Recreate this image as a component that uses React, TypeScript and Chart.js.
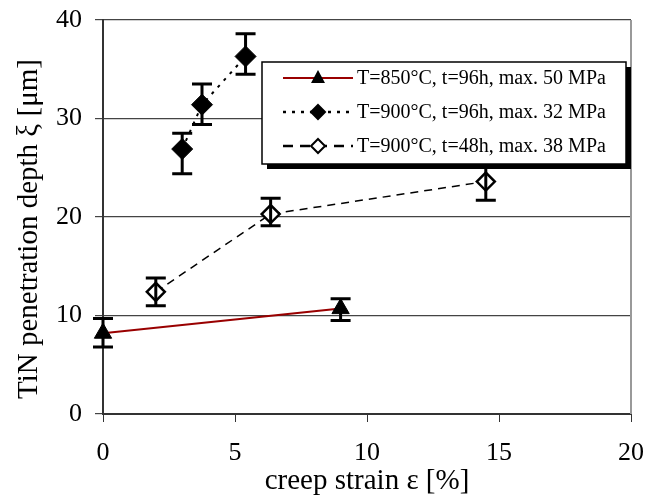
import React, { useEffect, useRef } from 'react';
import { Chart, registerables } from 'chart.js';

Chart.register(...registerables);

const xTickStep = 5;
const xMin = 0;
const xMax = 20;
const yTickStep = 10;
const yMin = 0;
const yMax = 40;

const xTitle = 'creep strain ε [%]';
const yTitle = 'TiN penetration depth ξ [μm]';

const s850Label = 'T=850°C, t=96h, max. 50 MPa';
const s850X = [0, 9];
const s850Y = [8.2, 10.7];
const s850Lo = [6.8, 9.5];
const s850Hi = [9.7, 11.7];

const s900aLabel = 'T=900°C, t=96h, max. 32 MPa';
const s900aX = [3.0, 3.75, 5.4];
const s900aY = [26.9, 31.4, 36.3];
const s900aLo = [24.4, 29.4, 34.5];
const s900aHi = [28.5, 33.5, 38.6];

const s900bLabel = 'T=900°C, t=48h, max. 38 MPa';
const s900bX = [2.0, 6.35, 14.5];
const s900bY = [12.4, 20.3, 23.6];
const s900bLo = [11.0, 19.1, 21.7];
const s900bHi = [13.8, 21.9, 25.2];

const FONT = "'Liberation Serif', 'Times New Roman', serif";

const toPts = (xs: number[], ys: number[]) => xs.map((x, i) => ({ x, y: ys[i] }));

const errorSets = [
  { xs: s850X, lo: s850Lo, hi: s850Hi },
  { xs: s900aX, lo: s900aLo, hi: s900aHi },
  { xs: s900bX, lo: s900bLo, hi: s900bHi },
];

const errorBarPlugin = {
  id: 'errorBars',
  afterDatasetsDraw(chart: any) {
    const { ctx, scales } = chart;
    ctx.save();
    ctx.strokeStyle = '#000';
    ctx.lineWidth = 3;
    errorSets.forEach((s) => {
      s.xs.forEach((xv, i) => {
        const px = scales.x.getPixelForValue(xv);
        const pLo = scales.y.getPixelForValue(s.lo[i]);
        const pHi = scales.y.getPixelForValue(s.hi[i]);
        ctx.beginPath();
        ctx.moveTo(px, pLo);
        ctx.lineTo(px, pHi);
        ctx.moveTo(px - 10, pLo);
        ctx.lineTo(px + 10, pLo);
        ctx.moveTo(px - 10, pHi);
        ctx.lineTo(px + 10, pHi);
        ctx.stroke();
      });
    });
    ctx.restore();
  },
};

const borderPlugin = {
  id: 'rightBorder',
  beforeDatasetsDraw(chart: any) {
    const { ctx, chartArea } = chart;
    ctx.save();
    ctx.strokeStyle = '#999';
    ctx.lineWidth = 2;
    ctx.beginPath();
    ctx.moveTo(chartArea.right, chartArea.top);
    ctx.lineTo(chartArea.right, chartArea.bottom);
    ctx.stroke();
    ctx.restore();
  },
};

const yTitlePlugin = {
  id: 'yTitle',
  afterDraw(chart: any) {
    const { ctx, chartArea } = chart;
    ctx.save();
    ctx.translate(29, (chartArea.top + chartArea.bottom) / 2 + 12);
    ctx.rotate(-Math.PI / 2);
    ctx.font = `29px ${FONT}`;
    ctx.fillStyle = '#000';
    ctx.textAlign = 'center';
    ctx.textBaseline = 'middle';
    ctx.fillText(yTitle, 0, 0);
    ctx.restore();
  },
};

const legendItems = [
  { label: s850Label, color: '#990000', dash: [] as number[], width: 2, marker: 'tri' },
  { label: s900aLabel, color: '#000', dash: [3, 6], width: 2.5, marker: 'dia' },
  { label: s900bLabel, color: '#000', dash: [10, 7], width: 2.5, marker: 'open' },
];

const legendPlugin = {
  id: 'boxLegend',
  afterDraw(chart: any) {
    const { ctx, chartArea } = chart;
    const left = chartArea.left + 159;
    const top = chartArea.top + 42;
    const w = 364;
    const h = 102;
    ctx.save();
    ctx.fillStyle = '#000';
    ctx.fillRect(left + 5, top + 5, w, h);
    ctx.fillStyle = '#fff';
    ctx.fillRect(left, top, w, h);
    ctx.strokeStyle = '#000';
    ctx.lineWidth = 1.5;
    ctx.strokeRect(left, top, w, h);
    ctx.font = `20px ${FONT}`;
    ctx.textBaseline = 'middle';
    ctx.textAlign = 'left';
    legendItems.forEach((it, i) => {
      const cy = top + 16 + i * 34;
      const x0 = left + 21;
      const x1 = left + 91;
      const cx = (x0 + x1) / 2;
      ctx.strokeStyle = it.color;
      ctx.lineWidth = it.width;
      ctx.setLineDash(it.dash);
      ctx.beginPath();
      ctx.moveTo(x0, cy);
      ctx.lineTo(x1, cy);
      ctx.stroke();
      ctx.setLineDash([]);
      ctx.beginPath();
      if (it.marker === 'tri') {
        ctx.moveTo(cx, cy - 8);
        ctx.lineTo(cx + 7, cy + 5);
        ctx.lineTo(cx - 7, cy + 5);
        ctx.closePath();
        ctx.fillStyle = '#000';
        ctx.fill();
      } else {
        ctx.moveTo(cx, cy - 7);
        ctx.lineTo(cx + 7, cy);
        ctx.lineTo(cx, cy + 7);
        ctx.lineTo(cx - 7, cy);
        ctx.closePath();
        ctx.fillStyle = it.marker === 'dia' ? '#000' : '#fff';
        ctx.fill();
        ctx.strokeStyle = '#000';
        ctx.lineWidth = 2;
        ctx.stroke();
      }
      ctx.fillStyle = '#000';
      ctx.fillText(it.label, left + 95, cy + 1);
    });
    ctx.restore();
  },
};

export default function App() {
  const ref = useRef<HTMLCanvasElement>(null);
  useEffect(() => {
    const chart = new Chart(ref.current!, {
      type: 'scatter',
      data: {
        datasets: [
          {
            label: s850Label,
            data: toPts(s850X, s850Y),
            showLine: true,
            clip: false,
            borderColor: '#990000',
            borderWidth: 2,
            pointStyle: 'triangle',
            pointRadius: 10,
            pointBackgroundColor: '#000',
            pointBorderColor: '#000',
            pointBorderWidth: 1,
          },
          {
            label: s900aLabel,
            data: toPts(s900aX, s900aY),
            showLine: true,
            clip: false,
            borderColor: '#000',
            borderWidth: 2,
            borderDash: [3, 6],
            pointStyle: 'rectRot',
            pointRadius: 10.5,
            pointBackgroundColor: '#000',
            pointBorderColor: '#000',
            pointBorderWidth: 1,
          },
          {
            label: s900bLabel,
            data: toPts(s900bX, s900bY),
            showLine: true,
            clip: false,
            borderColor: '#000',
            borderWidth: 1.5,
            borderDash: [8, 6],
            pointStyle: 'rectRot',
            pointRadius: 9,
            pointBackgroundColor: '#fff',
            pointBorderColor: '#000',
            pointBorderWidth: 2.5,
          },
        ],
      },
      options: {
        animation: false,
        responsive: true,
        maintainAspectRatio: false,
        layout: { padding: { left: 0, right: 16, top: 20, bottom: 0 } },
        plugins: { legend: { display: false }, tooltip: { enabled: false } },
        scales: {
          x: {
            type: 'linear',
            min: xMin,
            max: xMax,
            afterFit: (s: any) => { s.height = 83; s.paddingLeft = 0; s.paddingRight = 0; },
            ticks: { stepSize: xTickStep, color: '#000', font: { family: FONT, size: 26 }, padding: 16 },
            grid: { drawOnChartArea: false, drawTicks: true, tickLength: 8, color: '#333' },
            border: { color: '#333', width: 2 },
            title: { display: true, text: xTitle, color: '#000', font: { family: FONT, size: 29 }, padding: { top: 0, bottom: -2 } },
          },
          y: {
            type: 'linear',
            min: yMin,
            max: yMax,
            afterFit: (s: any) => { s.width = 103; s.paddingTop = 0; s.paddingBottom = 0; },
            ticks: { stepSize: yTickStep, color: '#000', font: { family: FONT, size: 26 }, padding: 13 },
            grid: { drawOnChartArea: true, drawTicks: true, tickLength: 8, color: '#444', lineWidth: 1.2 },
            border: { color: '#333', width: 2 },
            title: { display: false },
          },
        },
      },
      plugins: [borderPlugin, errorBarPlugin, legendPlugin, yTitlePlugin],
    } as any);
    return () => chart.destroy();
  }, []);
  return (
    <div style={{ position: 'fixed', left: 0, top: 0, width: 647, height: 497, background: '#fff' }}>
      <canvas ref={ref} />
    </div>
  );
}
